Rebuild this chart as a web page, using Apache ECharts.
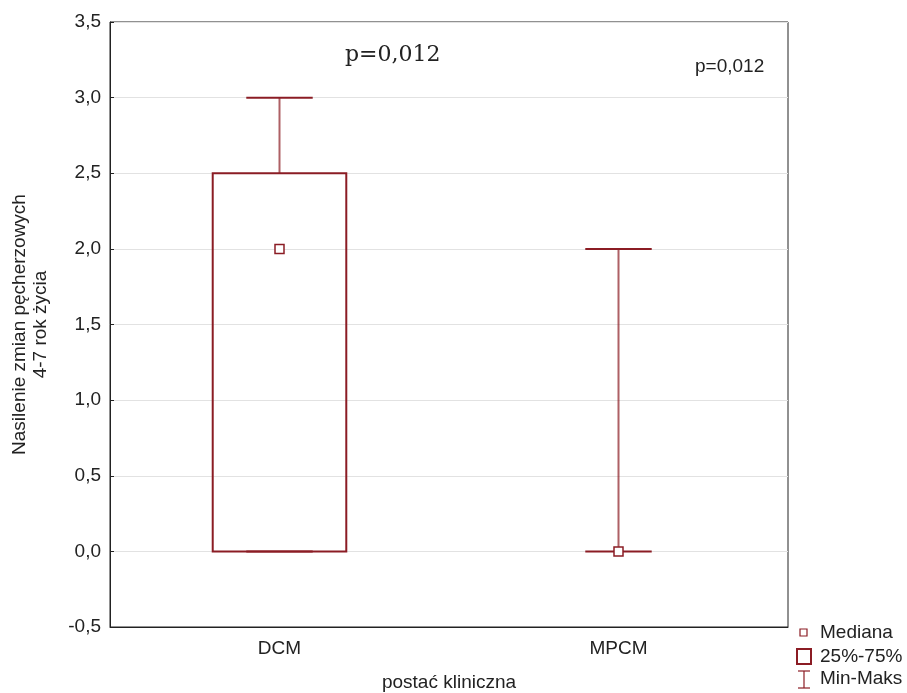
<!DOCTYPE html>
<html>
<head>
<meta charset="utf-8">
<script src="https://cdn.jsdelivr.net/npm/echarts@6/dist/echarts.min.js"></script>
<style>
  html, body { margin: 0; padding: 0; background: #fff; }
  #chart { width: 907px; height: 693px; }
</style>
</head>
<body>
<div id="chart"></div>
<script>
// Box plot: severity of vesicular changes by clinical form
const categories = ['DCM', 'MPCM'];
const minVals    = [0, 0];
const q1Vals     = [0, 0];
const medianVals = [2, 0];
const q3Vals     = [2.5, 0];
const maxVals    = [3, 2];

const yMin = -0.5, yMax = 3.5, yStep = 0.5;
const pValueText = 'p=0,012';

const boxColor = '#8B1C24';
const font = 'Liberation Sans, Arial, sans-serif';
const fs = 19;

const rows = categories.map((c, i) => [i, minVals[i], q1Vals[i], medianVals[i], q3Vals[i], maxVals[i]]);

function renderBox(params, api) {
  const idx = api.value(0);
  const band = api.size([1, 0])[0];
  const boxHalf = band * 0.197;
  const capHalf = band * 0.098;
  const pMin = api.coord([idx, api.value(1)]);
  const pQ1  = api.coord([idx, api.value(2)]);
  const pMed = api.coord([idx, api.value(3)]);
  const pQ3  = api.coord([idx, api.value(4)]);
  const pMax = api.coord([idx, api.value(5)]);
  const cx = pMed[0];
  const children = [];
  const whiskerStyle = { stroke: boxColor, lineWidth: 2, opacity: 0.7 };
  const capStyle = { stroke: boxColor, lineWidth: 2 };
  if (pQ3[1] > pMax[1]) {
    children.push({ type: 'line', shape: { x1: cx, y1: pQ3[1], x2: cx, y2: pMax[1] }, style: whiskerStyle });
  }
  if (pMin[1] > pQ1[1]) {
    children.push({ type: 'line', shape: { x1: cx, y1: pQ1[1], x2: cx, y2: pMin[1] }, style: whiskerStyle });
  }
  children.push({ type: 'line', shape: { x1: cx - capHalf, y1: pMax[1], x2: cx + capHalf, y2: pMax[1] }, style: capStyle });
  children.push({ type: 'line', shape: { x1: cx - capHalf, y1: pMin[1], x2: cx + capHalf, y2: pMin[1] }, style: capStyle });
  if (pQ1[1] - pQ3[1] > 0.5) {
    children.push({
      type: 'rect',
      shape: { x: cx - boxHalf, y: pQ3[1], width: boxHalf * 2, height: pQ1[1] - pQ3[1] },
      style: { fill: 'rgba(255,255,255,0)', stroke: boxColor, lineWidth: 2 }
    });
  }
  children.push({
    type: 'rect',
    shape: { x: cx - 4.5, y: pMed[1] - 4.5, width: 9, height: 9 },
    style: { fill: '#fff', stroke: boxColor, lineWidth: 1.5 }
  });
  return { type: 'group', children: children };
}

const chart = echarts.init(document.getElementById('chart'), null, { renderer: 'canvas' });

const legendX = 797;
const legendTextStyle = (text, y) => ({
  type: 'text', x: 820, y: y,
  style: { text: text, font: fs + 'px ' + font, fill: '#222', verticalAlign: 'middle' }
});

chart.setOption({
  animation: false,
  backgroundColor: '#fff',
  grid: {
    left: 110, right: 119, top: 22, bottom: 66,
    containLabel: false,
    outerBoundsMode: 'none',
    show: true, borderColor: '#222', borderWidth: 1, backgroundColor: 'transparent'
  },
  xAxis: {
    type: 'category',
    data: categories,
    name: 'postać kliniczna',
    nameLocation: 'middle',
    nameGap: 46,
    nameTextStyle: { fontFamily: font, fontSize: fs, color: '#222' },
    axisLine: { onZero: false, lineStyle: { color: '#222', width: 1 } },
    axisTick: { alignWithLabel: true, inside: true, length: 4, lineStyle: { color: '#222' } },
    axisLabel: { fontFamily: font, fontSize: fs, color: '#222', margin: 12 },
    splitLine: { show: false }
  },
  yAxis: {
    type: 'value',
    min: yMin, max: yMax, interval: yStep,
    name: 'Nasilenie zmian pęcherzowych\n4-7 rok życia',
    nameLocation: 'middle',
    nameGap: 59,
    nameRotate: 90,
    nameTextStyle: { fontFamily: font, fontSize: fs, color: '#222', lineHeight: 21, align: 'center' },
    axisLine: { show: true, lineStyle: { color: '#222', width: 1 } },
    axisTick: { show: true, inside: true, length: 4, lineStyle: { color: '#222' } },
    axisLabel: {
      fontFamily: font, fontSize: fs, color: '#222', margin: 9,
      formatter: v => v.toFixed(1).replace('.', ',')
    },
    splitLine: { show: true, lineStyle: { color: '#e2e2e2', width: 1 } }
  },
  series: [{
    type: 'custom',
    renderItem: renderBox,
    data: rows,
    encode: { x: 0, y: [1, 2, 3, 4, 5] },
    z: 3
  }],
  graphic: [
    { type: 'text', x: 345, y: 55,
      style: { text: pValueText, font: '22px "DejaVu Serif", serif', fill: '#222', verticalAlign: 'middle' } },
    { type: 'text', x: 695, y: 67,
      style: { text: pValueText, font: fs + 'px ' + font, fill: '#222', verticalAlign: 'middle' } },
    // legend
    { type: 'rect', shape: { x: legendX + 3, y: 629, width: 7, height: 7 },
      style: { fill: '#fff', stroke: boxColor, lineWidth: 1.2 } },
    legendTextStyle('Mediana', 633),
    { type: 'rect', shape: { x: legendX, y: 649, width: 14, height: 15 },
      style: { fill: '#fff', stroke: boxColor, lineWidth: 2 } },
    legendTextStyle('25%-75%', 657),
    { type: 'line', shape: { x1: legendX + 7, y1: 671, x2: legendX + 7, y2: 688 },
      style: { stroke: boxColor, lineWidth: 1.2 } },
    { type: 'line', shape: { x1: legendX + 1, y1: 671, x2: legendX + 13, y2: 671 },
      style: { stroke: boxColor, lineWidth: 1.2 } },
    { type: 'line', shape: { x1: legendX + 1, y1: 688, x2: legendX + 13, y2: 688 },
      style: { stroke: boxColor, lineWidth: 1.2 } },
    legendTextStyle('Min-Maks', 679)
  ]
});
</script>
</body>
</html>
